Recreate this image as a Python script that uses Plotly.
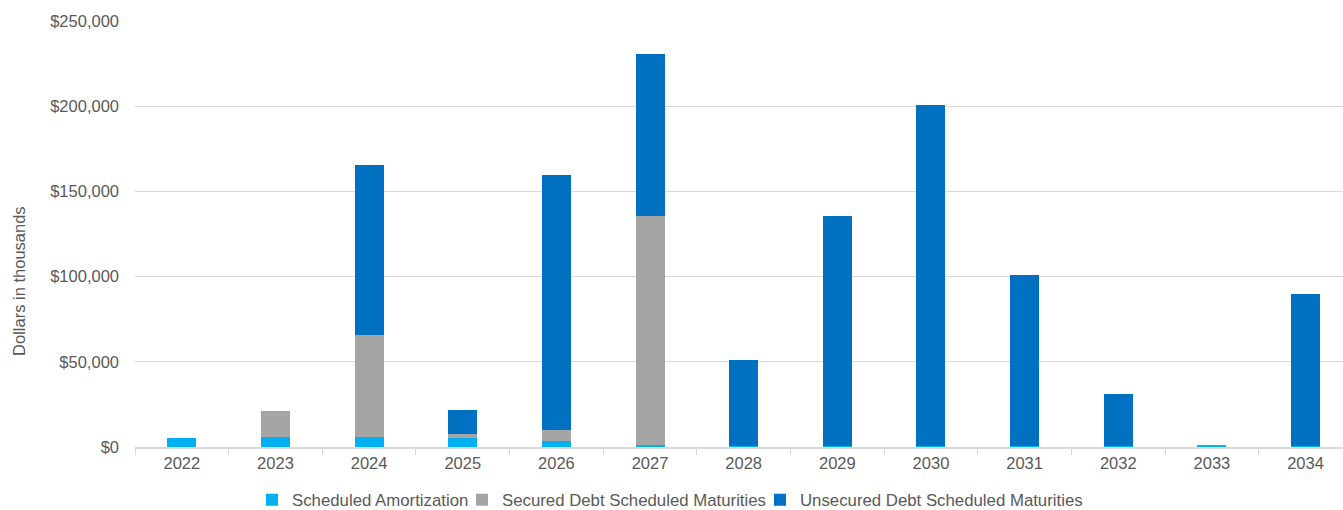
import plotly.graph_objects as go

years = ["2022", "2023", "2024", "2025", "2026", "2027", "2028",
         "2029", "2030", "2031", "2032", "2033", "2034"]
amortization = [5300, 5700, 5700, 5300, 3500, 1000, 600, 600, 600, 600, 600, 700, 600]
secured = [0, 15400, 60000, 2100, 6300, 134800, 0, 0, 0, 0, 0, 0, 0]
unsecured = [0, 0, 99800, 14500, 150000, 95000, 50300, 134800, 199900, 100200, 30400, 0, 89000]

font_family = "Liberation Sans, Arial, sans-serif"
grey_text = "#595959"
fs = 16.5
fs_leg = 16.8

fig = go.Figure()
fig.add_trace(go.Bar(x=years, y=amortization, name="Scheduled Amortization",
                     marker=dict(color="#00B0F0", line=dict(width=0)),
                     legend="legend", showlegend=True))
fig.add_trace(go.Bar(x=years, y=secured, name="Secured Debt Scheduled Maturities",
                     marker=dict(color="#A5A5A5", line=dict(width=0)),
                     legend="legend2", showlegend=True))
fig.add_trace(go.Bar(x=years, y=unsecured, name="Unsecured Debt Scheduled Maturities",
                     marker=dict(color="#0070C0", line=dict(width=0)),
                     legend="legend3", showlegend=True))

def leg(text_start_px):
    return dict(orientation="h", xref="container", x=(text_start_px - 42) / 1343,
                xanchor="left", yref="container", y=0.02, yanchor="middle",
                font=dict(size=fs_leg, color=grey_text), itemwidth=30,
                bgcolor="rgba(0,0,0,0)")

fig.update_layout(
    showlegend=True,
    barmode="stack",
    bargap=0.69,
    width=1343, height=510,
    margin=dict(l=135, r=0, t=21, b=63, autoexpand=False),
    plot_bgcolor="white", paper_bgcolor="white",
    font=dict(family=font_family, color=grey_text, size=fs),
    legend=leg(294),
    legend2=leg(504),
    legend3=leg(802),
    xaxis=dict(type="category", range=[-0.5, 12.4], showgrid=False,
               showline=True, linecolor="#D9D9D9", linewidth=2,
               ticks="outside", tickson="boundaries", ticklen=6, tickcolor="#D9D9D9",
               tickfont=dict(size=fs, color=grey_text)),
    yaxis=dict(range=[0, 250000], dtick=50000, tickprefix="$", tickformat=",",
               showgrid=True, gridcolor="#D9D9D9", gridwidth=1, zeroline=False,
               ticks="", ticklabelstandoff=15,
               tickfont=dict(size=fs, color=grey_text)),
    annotations=[dict(text="Dollars in thousands", textangle=-90,
                      xref="paper", yref="paper", x=-0.096, y=0.39,
                      xanchor="center", yanchor="middle", showarrow=False,
                      font=dict(size=fs, color=grey_text))],
)

fig.write_html("out.html")
